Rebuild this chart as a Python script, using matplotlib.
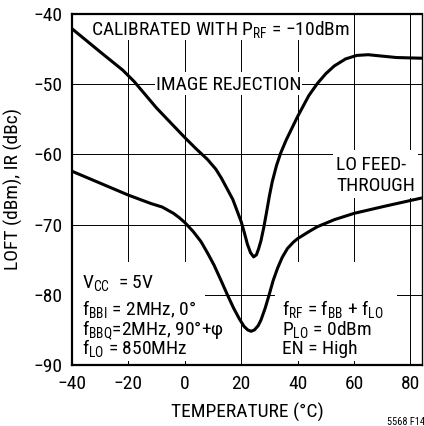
import matplotlib
matplotlib.use("Agg")
import matplotlib.pyplot as plt
from matplotlib.patches import Rectangle
from matplotlib import font_manager as fm

avail = {f.name for f in fm.fontManager.ttflist}
cands = ['Roboto Condensed', 'Archivo Narrow', 'PT Sans Narrow', 'Asap Condensed',
         'Liberation Sans']
main = [c for c in cands if c in avail][0]
plt.rcParams['font.family'] = [main, 'DejaVu Sans']
plt.rcParams['mathtext.fontset'] = 'custom'
plt.rcParams['mathtext.rm'] = main
plt.rcParams['mathtext.it'] = main
plt.rcParams['mathtext.default'] = 'regular'

# ---- data ----
ir_temp = [-40, -30, -22, -18, -10, -5, 0, 4, 8, 11, 13, 15, 17, 18.5, 20, 21,
           22.2, 23.3, 24.4, 25.4, 26.2, 27.0, 28.0, 29.0, 30.0, 31.0, 32.5, 34,
           36, 40, 44, 47, 50, 53, 57, 61, 65, 70, 75, 84.1]
ir_val = [-42.1, -45.4, -48.0, -49.6, -53.4, -55.5, -57.6, -59.2, -60.7, -62.1,
          -63.4, -64.9, -66.4, -68.0, -69.6, -71.0, -72.8, -74.0, -74.6, -74.3,
          -73.4, -72.3, -70.4, -68.2, -65.9, -63.9, -61.6, -59.8, -57.9, -54.6,
          -51.6, -49.9, -48.5, -47.4, -46.4, -45.9, -45.8, -46.0, -46.2, -46.3]

loft_temp = [-40, -30, -20, -12, -8, -4, -2, 0, 3, 5.7, 8, 10.4, 13, 15.1, 17.3,
             19.3, 21, 22.3, 23.5, 24.7, 26, 27, 28.5, 29.9, 31.3, 32.9, 34.5,
             36.4, 38.5, 40, 44, 47, 53, 60, 70.7, 84.1]
loft_val = [-62.4, -64.1, -65.8, -67.0, -67.5, -68.4, -69.0, -69.7, -71.0, -72.4,
            -74.0, -75.8, -78.1, -80.0, -81.9, -83.4, -84.5, -85.0, -85.2, -85.0,
            -84.4, -83.6, -81.9, -80.0, -78.0, -76.2, -74.7, -73.4, -72.5, -72.0,
            -71.0, -70.3, -69.3, -68.4, -67.4, -66.2]

xticks = [-40, -20, 0, 20, 40, 60, 80]
yticks = [-90, -80, -70, -60, -50, -40]

W, H = 424, 426
fig = plt.figure(figsize=(W / 100, H / 100), dpi=100)
AX_L, AX_R, AX_T, AX_B = 72, 422, 14, 365
ax = fig.add_axes([AX_L / W, 1 - AX_B / H, (AX_R - AX_L) / W, (AX_B - AX_T) / H])


def fx(px):
    return (px - AX_L) / (AX_R - AX_L)


def fy(py):
    return (AX_B - py) / (AX_B - AX_T)


FS = 14
ax.set_xlim(-40, 84.1)
ax.set_ylim(-90, -40)
ax.set_xticks(xticks)
ax.set_yticks(yticks)
ax.set_xticklabels([f"{t:d}".replace('-', '\u2212') for t in xticks])
ax.set_yticklabels([f"{t:d}".replace('-', '\u2212') for t in yticks])
ax.tick_params(axis='both', length=0, labelsize=FS)
ax.tick_params(axis='y', pad=7)
ax.tick_params(axis='x', pad=7)
ax.set_axisbelow(True)
ax.grid(True, color='black', lw=0.7)
for s in ['left', 'bottom', 'top']:
    ax.spines[s].set_linewidth(1.6)
ax.spines['right'].set_linewidth(1.0)

ax.set_xlabel("TEMPERATURE (°C)", fontsize=FS, labelpad=7)
ax.set_ylabel("LOFT (dBm), IR (dBc)", fontsize=FS, labelpad=7)


# white masks behind labels (covering the grid)
def mask(x0, y0, x1, y1):
    ax.add_patch(Rectangle((fx(x0), fy(y1)), fx(x1) - fx(x0), fy(y0) - fy(y1),
                           transform=ax.transAxes, facecolor='white',
                           edgecolor='none', zorder=1))


mask(85, 15, 350, 40)
mask(155, 72, 302, 95)
mask(333, 150, 418, 198)
mask(73, 262, 205, 361)
mask(275, 262, 397, 361)

ax.plot(ir_temp, ir_val, color='black', lw=2.2, zorder=3,
        solid_joinstyle='round', solid_capstyle='butt')
ax.plot(loft_temp, loft_val, color='black', lw=2.2, zorder=3,
        solid_joinstyle='round', solid_capstyle='butt')

tk = dict(transform=ax.transAxes, fontsize=FS, va='baseline', ha='left', zorder=4)
ax.text(fx(91), fy(35), "CALIBRATED WITH P$_{RF}$ = \u221210dBm", **tk)
ax.text(fx(228.5), fy(89.5), "IMAGE REJECTION", **{**tk, 'ha': 'center'})
ax.text(fx(336.5), fy(170), "LO FEED-", **tk)
ax.text(fx(336.5), fy(190.5), "THROUGH", **tk)

ax.text(fx(81.7), fy(288.3), "V$_{CC}$  = 5V", **tk)
ax.text(fx(81.7), fy(315), "f$_{BBI}$ = 2MHz, 0°", **tk)
ax.text(fx(81.7), fy(335), "f$_{BBQ}$=2MHz, 90°+φ", **tk)
ax.text(fx(81.7), fy(354), "f$_{LO}$ = 850MHz", **tk)

ax.text(fx(281.7), fy(315), "f$_{RF}$ = f$_{BB}$ + f$_{LO}$", **tk)
ax.text(fx(281.7), fy(335), "P$_{LO}$ = 0dBm", **tk)
ax.text(fx(281.7), fy(354), "EN = High", **tk)

fig.text(387 / W, 1 - 425 / H, "5568 F14", fontsize=7.5, ha='left', va='baseline')

fig.savefig("out.png", dpi=100)
